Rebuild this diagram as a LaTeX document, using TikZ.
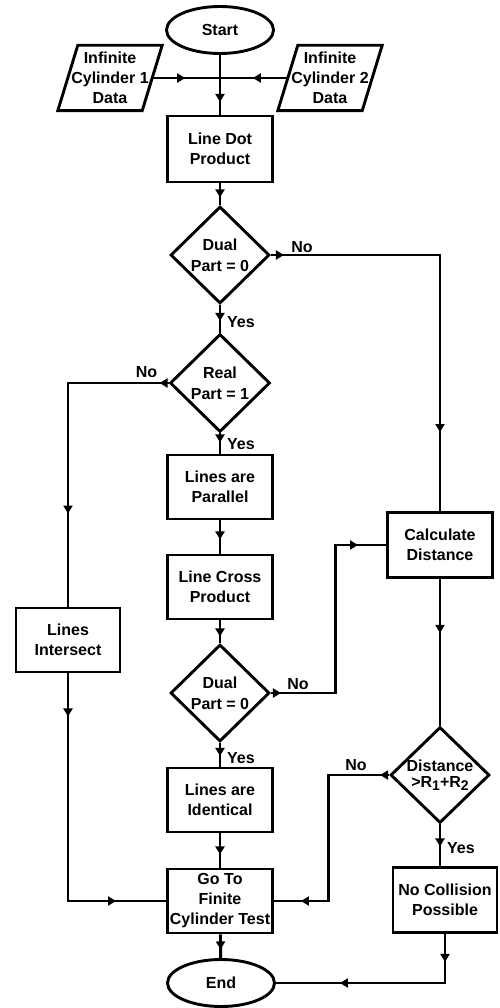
\documentclass[tikz,border=0pt]{standalone}
\usepackage{fontspec}
\setmainfont{Liberation Sans}
\usetikzlibrary{shapes.geometric,arrows.meta,decorations.markings,calc}

\tikzset{
  lw/.style={line width=2.9pt},
  proc/.style={rectangle, draw, lw, minimum width=105, minimum height=65, inner sep=0pt, align=center},
  term/.style={ellipse, draw, lw, minimum width=107, minimum height=47, inner sep=0pt},
  datain/.style={rectangle, minimum width=104, minimum height=65, inner sep=0pt, align=center},
  decide/.style={diamond, draw, lw, minimum width=99, minimum height=97, inner sep=0pt},
  conn/.style={lw},
  ar/.style={postaction={decorate, decoration={markings,
      mark=at position #1pt with {\arrow{Triangle[width=9pt,length=8pt]}}}}},
  lbl/.style={inner sep=0pt},
  dlabel/.style={align=center, font=\fontsize{16}{21}\selectfont\bfseries},
}

\begin{document}
\begin{tikzpicture}[x=1pt, y=-1pt, font=\fontsize{16}{20}\selectfont\bfseries]
\useasboundingbox (0,0) rectangle (499,1008);
\fill[white] (0,0) rectangle (499,1008);

% main column
\node[term] (start) at (220,30) {Start};
\node[datain] (in1) at (110,78) {Infinite\\Cylinder 1\\Data};
\node[datain] (in2) at (330,78) {Infinite\\Cylinder 2\\Data};
\foreach \n in {in1,in2}
  \draw[lw, line join=miter] ([xshift=20]\n.north west) -- (\n.north east)
        -- ([xshift=-20]\n.south east) -- (\n.south west) -- cycle;
\coordinate (j) at (220,78);
\node[proc, minimum height=66] (dot) at (220,149) {Line Dot\\Product};
\node[decide, label={[dlabel]center:Dual\\Part = 0}] (d1) at (220,255) {};
\node[decide, minimum width=100, minimum height=98, label={[dlabel]center:Real\\Part = 1}] (d2) at (220,383) {};
\node[proc, minimum height=64] (par) at (220,487) {Lines are\\Parallel};
\node[proc, minimum height=64] (cross) at (220,587) {Line Cross\\Product};
\node[decide, label={[dlabel]center:Dual\\Part = 0}] (d3) at (220,693) {};
\node[proc, minimum height=64] (ident) at (220,800) {Lines are\\Identical};
\node[proc, minimum height=64] (goto) at (220,901) {Go To\\Finite\\Cylinder Test};
\node[term] (endn) at (221,983) {End};

% side columns
\node[proc, minimum width=104, minimum height=64] (inter) at (68,640) {Lines\\Intersect};
\node[proc] (calc) at (440,545) {Calculate\\Distance};
\node[decide, minimum height=96, label={[align=center, font=\fontsize{16}{16}\selectfont\bfseries]center:Distance\\{>}R\raisebox{-3pt}{\fontsize{14}{14}\selectfont 1}+R\raisebox{-3pt}{\fontsize{14}{14}\selectfont 2}}] (d4) at (440,775) {};
\node[proc, minimum width=104] (nocoll) at (445,900) {No Collision\\Possible};

% connectors
\draw[conn, ar=47] (start) -- (j) -- (dot);
\draw[conn, ar=33] ([xshift=-10]in1.east) -- (j);
\draw[conn, ar=35] ([xshift=10]in2.west) -- (j);
\draw[conn, ar=14] (dot) -- (d1);
\draw[conn, ar=16] (d1) -- (d2);
\draw[conn, ar=13, ar=-79] (d1.east) -| (calc.north);
\draw[conn, ar=9, ar=-93] (d2.west) -| (inter.north);
\draw[conn, ar=43, ar=-50] (inter.south) |- (goto.west);
\draw[conn, ar=9] (d2) -- (par);
\draw[conn, ar=19] (par) -- (cross);
\draw[conn, ar=16] (cross) -- (d3);
\draw[conn, ar=10, ar=-28] (d3.east) -- ([xshift=64.5]d3.east) |- (calc.west);
\draw[conn, ar=13] (d3) -- (ident);
\draw[conn, ar=21] (ident) -- (goto);
\draw[conn, ar=54] (calc) -- (d4);
\draw[conn, ar=9, ar=-27] (d4.west) -- ([xshift=-60.5]d4.west) |- (goto.east);
\draw[conn, ar=22] (d4.south) -- (d4.south |- nocoll.north);
\draw[conn, ar=28, ar=-64] (nocoll.south) |- (endn.east);
\draw[conn, ar=15] (goto) -- (endn);

% branch labels
\node[lbl] at ([xshift=31, yshift=8]d1.east) {No};
\node[lbl, anchor=west] at ([xshift=7, yshift=-17]d1.south) {Yes};
\node[lbl] at ([xshift=-22, yshift=11]d2.west) {No};
\node[lbl, anchor=west] at ([xshift=7, yshift=-11]d2.south) {Yes};
\node[lbl] at ([xshift=27, yshift=9]d3.east) {No};
\node[lbl, anchor=west] at ([xshift=7, yshift=-15]d3.south) {Yes};
\node[lbl] at ([xshift=-33, yshift=10]d4.west) {No};
\node[lbl, anchor=west] at ([xshift=7, yshift=-24]d4.south) {Yes};
\end{tikzpicture}
\end{document}
